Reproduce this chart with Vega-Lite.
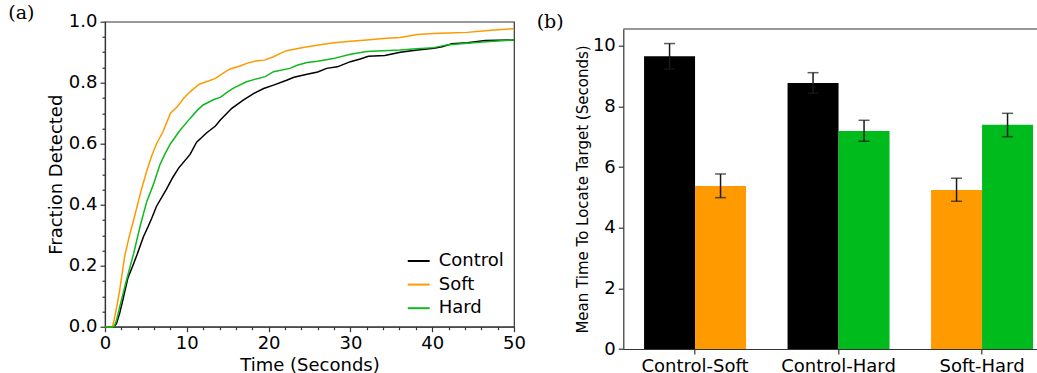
{
  "$schema": "https://vega.github.io/schema/vega-lite/v6.json",
  "autosize": "none",
  "padding": {"left": 105, "top": 21.7, "right": 932, "bottom": 351.3},
  "background": "white",
  "bounds": "flush",
  "spacing": 109.3,
  "resolve": {"scale": {"color": "independent"}},
  "config": {
    "font": "DejaVu Sans",
    "axis": {
      "labelFont": "DejaVu Sans", "labelFontSize": 18, "labelColor": "#000",
      "titleFont": "DejaVu Sans", "titleFontSize": 18, "titleFontWeight": "normal", "titleColor": "#000",
      "domainColor": "#333", "tickColor": "#333", "domainWidth": 1.2, "tickWidth": 1.2,
      "grid": false, "tickSize": 5, "labelPadding": 3, "labelFlush": false
    },
    "view": {"stroke": "#333", "strokeWidth": 1.2}
  },
  "hconcat": [
    {
      "width": 409,
      "height": 305,
      "title": {"text": "(a)", "anchor": "start", "frame": "group", "orient": "top", "offset": 0, "dx": -96.7, "dy": 19.5, "baseline": "middle", "align": "left", "font": "DejaVu Serif", "fontSize": 19, "fontWeight": "normal", "color": "#000"},
      "data": {"values": [
        {"c": "Control", "t": 0, "f": 0}, {"c": "Control", "t": 1.1, "f": 0}, {"c": "Control", "t": 1.4, "f": 0.01}, {"c": "Control", "t": 1.8, "f": 0.045}, {"c": "Control", "t": 2.2, "f": 0.09}, {"c": "Control", "t": 2.8, "f": 0.16}, {"c": "Control", "t": 3.4, "f": 0.2}, {"c": "Control", "t": 3.9, "f": 0.235}, {"c": "Control", "t": 4.7, "f": 0.295}, {"c": "Control", "t": 5.3, "f": 0.33}, {"c": "Control", "t": 5.7, "f": 0.355}, {"c": "Control", "t": 6.3, "f": 0.395}, {"c": "Control", "t": 7.5, "f": 0.45}, {"c": "Control", "t": 8.3, "f": 0.49}, {"c": "Control", "t": 9.0, "f": 0.52}, {"c": "Control", "t": 10.4, "f": 0.565}, {"c": "Control", "t": 11.2, "f": 0.605}, {"c": "Control", "t": 12.4, "f": 0.635}, {"c": "Control", "t": 13.5, "f": 0.658}, {"c": "Control", "t": 14.1, "f": 0.678}, {"c": "Control", "t": 15.5, "f": 0.716}, {"c": "Control", "t": 16.9, "f": 0.743}, {"c": "Control", "t": 18.2, "f": 0.765}, {"c": "Control", "t": 19.4, "f": 0.781}, {"c": "Control", "t": 20.6, "f": 0.792}, {"c": "Control", "t": 22.2, "f": 0.808}, {"c": "Control", "t": 23.1, "f": 0.818}, {"c": "Control", "t": 24.7, "f": 0.828}, {"c": "Control", "t": 26.0, "f": 0.835}, {"c": "Control", "t": 27.1, "f": 0.847}, {"c": "Control", "t": 28.4, "f": 0.852}, {"c": "Control", "t": 30.0, "f": 0.869}, {"c": "Control", "t": 31.2, "f": 0.878}, {"c": "Control", "t": 32.2, "f": 0.887}, {"c": "Control", "t": 34.2, "f": 0.889}, {"c": "Control", "t": 36.1, "f": 0.9}, {"c": "Control", "t": 38.2, "f": 0.907}, {"c": "Control", "t": 40.2, "f": 0.913}, {"c": "Control", "t": 41.2, "f": 0.918}, {"c": "Control", "t": 42.4, "f": 0.928}, {"c": "Control", "t": 44.3, "f": 0.931}, {"c": "Control", "t": 46.5, "f": 0.938}, {"c": "Control", "t": 50, "f": 0.94},
        {"c": "Soft", "t": 0, "f": 0}, {"c": "Soft", "t": 0.9, "f": 0}, {"c": "Soft", "t": 1.1, "f": 0.02}, {"c": "Soft", "t": 1.4, "f": 0.06}, {"c": "Soft", "t": 1.8, "f": 0.12}, {"c": "Soft", "t": 2.4, "f": 0.23}, {"c": "Soft", "t": 3.0, "f": 0.3}, {"c": "Soft", "t": 3.5, "f": 0.35}, {"c": "Soft", "t": 4.5, "f": 0.455}, {"c": "Soft", "t": 5.1, "f": 0.51}, {"c": "Soft", "t": 5.7, "f": 0.56}, {"c": "Soft", "t": 6.3, "f": 0.6}, {"c": "Soft", "t": 7.1, "f": 0.64}, {"c": "Soft", "t": 8.0, "f": 0.7}, {"c": "Soft", "t": 8.8, "f": 0.72}, {"c": "Soft", "t": 9.6, "f": 0.748}, {"c": "Soft", "t": 10.4, "f": 0.77}, {"c": "Soft", "t": 11.5, "f": 0.795}, {"c": "Soft", "t": 12.4, "f": 0.803}, {"c": "Soft", "t": 13.5, "f": 0.814}, {"c": "Soft", "t": 14.5, "f": 0.832}, {"c": "Soft", "t": 15.3, "f": 0.845}, {"c": "Soft", "t": 16.5, "f": 0.855}, {"c": "Soft", "t": 17.5, "f": 0.865}, {"c": "Soft", "t": 18.6, "f": 0.872}, {"c": "Soft", "t": 19.5, "f": 0.874}, {"c": "Soft", "t": 20.6, "f": 0.885}, {"c": "Soft", "t": 21.5, "f": 0.897}, {"c": "Soft", "t": 22.2, "f": 0.905}, {"c": "Soft", "t": 23.9, "f": 0.914}, {"c": "Soft", "t": 25.9, "f": 0.923}, {"c": "Soft", "t": 28, "f": 0.931}, {"c": "Soft", "t": 30, "f": 0.936}, {"c": "Soft", "t": 32, "f": 0.94}, {"c": "Soft", "t": 34, "f": 0.945}, {"c": "Soft", "t": 36.1, "f": 0.948}, {"c": "Soft", "t": 38.2, "f": 0.958}, {"c": "Soft", "t": 40.2, "f": 0.961}, {"c": "Soft", "t": 42, "f": 0.963}, {"c": "Soft", "t": 44.3, "f": 0.965}, {"c": "Soft", "t": 46.5, "f": 0.97}, {"c": "Soft", "t": 48, "f": 0.974}, {"c": "Soft", "t": 50, "f": 0.977},
        {"c": "Hard", "t": 0, "f": 0}, {"c": "Hard", "t": 1.1, "f": 0}, {"c": "Hard", "t": 1.4, "f": 0.02}, {"c": "Hard", "t": 1.8, "f": 0.065}, {"c": "Hard", "t": 2.6, "f": 0.15}, {"c": "Hard", "t": 3.0, "f": 0.19}, {"c": "Hard", "t": 3.5, "f": 0.24}, {"c": "Hard", "t": 4.3, "f": 0.33}, {"c": "Hard", "t": 5.1, "f": 0.41}, {"c": "Hard", "t": 5.9, "f": 0.465}, {"c": "Hard", "t": 6.7, "f": 0.53}, {"c": "Hard", "t": 7.3, "f": 0.565}, {"c": "Hard", "t": 8.0, "f": 0.6}, {"c": "Hard", "t": 9.2, "f": 0.645}, {"c": "Hard", "t": 10.4, "f": 0.683}, {"c": "Hard", "t": 11.3, "f": 0.71}, {"c": "Hard", "t": 12.0, "f": 0.727}, {"c": "Hard", "t": 13.3, "f": 0.745}, {"c": "Hard", "t": 14.1, "f": 0.752}, {"c": "Hard", "t": 15.0, "f": 0.77}, {"c": "Hard", "t": 15.7, "f": 0.782}, {"c": "Hard", "t": 17.3, "f": 0.803}, {"c": "Hard", "t": 18.2, "f": 0.81}, {"c": "Hard", "t": 19.6, "f": 0.82}, {"c": "Hard", "t": 20.6, "f": 0.836}, {"c": "Hard", "t": 22.6, "f": 0.847}, {"c": "Hard", "t": 23.5, "f": 0.857}, {"c": "Hard", "t": 24.7, "f": 0.866}, {"c": "Hard", "t": 26.0, "f": 0.87}, {"c": "Hard", "t": 27.9, "f": 0.879}, {"c": "Hard", "t": 30, "f": 0.893}, {"c": "Hard", "t": 32, "f": 0.902}, {"c": "Hard", "t": 34, "f": 0.905}, {"c": "Hard", "t": 36.1, "f": 0.907}, {"c": "Hard", "t": 38.1, "f": 0.911}, {"c": "Hard", "t": 40.2, "f": 0.915}, {"c": "Hard", "t": 41.8, "f": 0.924}, {"c": "Hard", "t": 44.3, "f": 0.929}, {"c": "Hard", "t": 47, "f": 0.935}, {"c": "Hard", "t": 50, "f": 0.94}
      ]},
      "layer": [
        {
          "mark": {"type": "line", "strokeWidth": 1.5},
          "encoding": {
            "x": {"field": "t", "type": "quantitative", "scale": {"domain": [0, 50], "nice": false},
                  "axis": {"orient": "bottom", "values": [0, 10, 20, 30, 40, 50], "format": "d", "title": "Time (Seconds)", "titlePadding": 3.5, "labelFlush": false}},
            "y": {"field": "f", "type": "quantitative", "scale": {"domain": [0, 1], "nice": false},
                  "axis": {"orient": "left", "values": [0, 0.2, 0.4, 0.6, 0.8, 1.0], "format": ".1f", "title": "Fraction Detected", "titlePadding": 3, "labelFlush": false}},
            "color": {"field": "c", "type": "nominal",
                      "scale": {"domain": ["Control", "Soft", "Hard"], "range": ["#000000", "#ff9900", "#10b820"]},
                      "legend": {"orient": "none", "legendX": 301.7, "legendY": 227.3, "title": null, "padding": 0,
                                 "symbolType": "stroke", "symbolStrokeWidth": 2, "symbolSize": 480,
                                 "labelFont": "DejaVu Sans", "labelFontSize": 18, "labelColor": "#000",
                                 "labelOffset": 8, "rowPadding": 2.6}}
          }
        },
        {
          "mark": {"type": "point", "opacity": 0},
          "encoding": {
            "x": {"field": "t", "type": "quantitative", "scale": {"domain": [0, 50], "nice": false},
                  "axis": {"orient": "bottom", "values": [2, 4, 6, 8, 12, 14, 16, 18, 22, 24, 26, 28, 32, 34, 36, 38, 42, 44, 46, 48], "labels": false, "domain": false, "tickSize": 3, "title": null}},
            "y": {"field": "f", "type": "quantitative", "scale": {"domain": [0, 1], "nice": false},
                  "axis": {"orient": "left", "values": [0.05, 0.1, 0.15, 0.25, 0.3, 0.35, 0.45, 0.5, 0.55, 0.65, 0.7, 0.75, 0.85, 0.9, 0.95], "labels": false, "domain": false, "tickSize": 3, "title": null}}
          }
        }
      ],
      "resolve": {"axis": {"x": "independent", "y": "independent"}}
    },
    {
      "width": 430.5,
      "height": 327.3,
      "view": {"stroke": null},
      "title": {"text": "(b)", "anchor": "start", "frame": "group", "orient": "top", "offset": 0, "dx": -86.6, "dy": 19.5, "baseline": "middle", "align": "left", "font": "DejaVu Serif", "fontSize": 19, "fontWeight": "normal", "color": "#000"},
      "data": {"values": [
        {"group": "Control-Soft", "pos": "1", "cond": "Control", "mean": 9.65, "lo": 9.23, "hi": 10.07},
        {"group": "Control-Soft", "pos": "2", "cond": "Soft", "mean": 5.37, "lo": 4.99, "hi": 5.77},
        {"group": "Control-Hard", "pos": "1", "cond": "Control", "mean": 8.77, "lo": 8.43, "hi": 9.11},
        {"group": "Control-Hard", "pos": "2", "cond": "Hard", "mean": 7.19, "lo": 6.85, "hi": 7.54},
        {"group": "Soft-Hard", "pos": "1", "cond": "Soft", "mean": 5.24, "lo": 4.87, "hi": 5.63},
        {"group": "Soft-Hard", "pos": "2", "cond": "Hard", "mean": 7.39, "lo": 7.0, "hi": 7.77}
      ]},
      "layer": [
        {
          "mark": {"type": "bar"},
          "encoding": {
            "x": {"field": "group", "type": "nominal", "sort": ["Control-Soft", "Control-Hard", "Soft-Hard"],
                  "scale": {"paddingInner": 0, "paddingOuter": 0},
                  "axis": {"title": null, "labelAngle": 0, "labelPadding": 3}},
            "xOffset": {"field": "pos", "type": "nominal", "scale": {"paddingInner": 0, "paddingOuter": 0.407}},
            "y": {"field": "mean", "type": "quantitative",
                  "scale": {"domain": [0, 10.55], "range": [327.3, 7.3], "nice": false},
                  "axis": {"values": [0, 2, 4, 6, 8, 10], "title": "Mean Time To Locate Target (Seconds)", "titleFontSize": 15, "titlePadding": 2}},
            "color": {"field": "cond", "type": "nominal",
                      "scale": {"domain": ["Control", "Soft", "Hard"], "range": ["#000000", "#ff9a00", "#00bb1c"]},
                      "legend": null}
          }
        },
        {
          "mark": {"type": "rule", "color": "#1a1a1a", "strokeWidth": 1.5},
          "encoding": {
            "x": {"field": "group", "type": "nominal", "sort": ["Control-Soft", "Control-Hard", "Soft-Hard"]},
            "xOffset": {"field": "pos", "type": "nominal"},
            "y": {"field": "lo", "type": "quantitative"},
            "y2": {"field": "hi"}
          }
        },
        {
          "mark": {"type": "tick", "color": "#1a1a1a", "thickness": 1.5},
          "encoding": {
            "x": {"field": "group", "type": "nominal", "sort": ["Control-Soft", "Control-Hard", "Soft-Hard"]},
            "xOffset": {"field": "pos", "type": "nominal"},
            "y": {"field": "lo", "type": "quantitative"},
            "size": {"value": 11}
          }
        },
        {
          "mark": {"type": "tick", "color": "#1a1a1a", "thickness": 1.5},
          "encoding": {
            "x": {"field": "group", "type": "nominal", "sort": ["Control-Soft", "Control-Hard", "Soft-Hard"]},
            "xOffset": {"field": "pos", "type": "nominal"},
            "y": {"field": "hi", "type": "quantitative"},
            "size": {"value": 11}
          }
        },
        {
          "data": {"values": [{"v": 10.55}]},
          "mark": {"type": "rule", "color": "#333", "strokeWidth": 1.2},
          "encoding": {"y": {"field": "v", "type": "quantitative"}}
        }
      ]
    }
  ]
}
